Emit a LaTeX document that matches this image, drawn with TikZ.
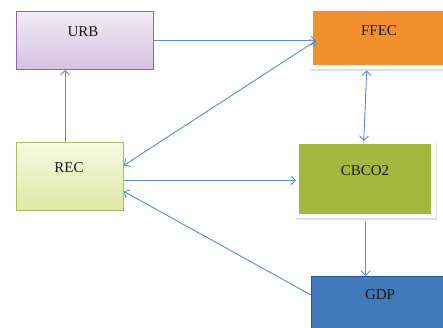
\documentclass[tikz,border=0pt]{standalone}
\usepackage{fontspec}
\setmainfont{Liberation Serif}
\usetikzlibrary{arrows.meta,calc,shadows}
\definecolor{linkblue}{HTML}{5B8DD0}
\definecolor{urbtop}{HTML}{F2ECF6}
\definecolor{urbbot}{HTML}{D6C2E0}
\definecolor{urbedge}{HTML}{8A68AA}
\definecolor{rectop}{HTML}{F6F9E2}
\definecolor{recbot}{HTML}{DFE9A6}
\definecolor{recedge}{HTML}{A6BE5C}
\definecolor{ffecfill}{HTML}{F0902E}
\definecolor{cbfill}{HTML}{A3B83C}
\definecolor{gdpfill}{HTML}{4279BA}
\definecolor{gdpedge}{HTML}{28558A}
\tikzset{
  x=1pt, y=-1pt,
  box/.style={rectangle, inner sep=0pt, anchor=north west},
  framed/.style={box, fill=white, drop shadow={shadow xshift=0.5pt, shadow yshift=-1.5pt, opacity=0.25}},
  caption/.style={font=\fontsize{15}{16}\selectfont, text=black!90, inner sep=0pt},
  link/.style={draw=linkblue, line width=0.9pt},
  tip/.style={-{Straight Barb[length=4.5pt,width=9pt]}},
  tips/.style={{Straight Barb[length=4.5pt,width=9pt]}-{Straight Barb[length=4.5pt,width=9pt]}},
}
\begin{document}
\begin{tikzpicture}
\useasboundingbox (0,0) rectangle (443,327);
\clip (0,0) rectangle (443,327);
\fill[white] (0,0) rectangle (443,327);

% URB: lilac gradient box
\node[box, minimum width=137pt, minimum height=58pt, top color=urbtop, bottom color=urbbot, draw=urbedge, line width=0.8pt, drop shadow={shadow xshift=0.5pt, shadow yshift=-1pt, opacity=0.2}] (urb) at (16,11) {};
\node[caption] at (83,32) {URB};

% FFEC: orange panel inside a white frame
\node[framed, minimum width=145pt, minimum height=60pt] (ffecframe) at (309,9) {};
\node[box, fill=ffecfill, minimum width=140pt, minimum height=54pt] (ffec) at (313,11) {};
\node[caption] at (379,31) {FFEC};

% REC: pale green gradient box
\node[box, minimum width=107pt, minimum height=68pt, top color=rectop, bottom color=recbot, draw=recedge, line width=0.8pt, drop shadow={shadow xshift=0.5pt, shadow yshift=-1pt, opacity=0.2}] (rec) at (16,142) {};
\node[caption] at (69,168) {REC};

% CBCO2: olive panel inside a white frame
\node[framed, minimum width=141pt, minimum height=77pt] (cbframe) at (295,141) {};
\node[box, fill=cbfill, minimum width=132pt, minimum height=70pt] (cbco) at (299,144) {};
\node[caption] at (365,171) {CBCO2};

% GDP: blue box running off the lower right corner
\node[box, fill=gdpfill, draw=gdpedge, line width=1.2pt, minimum width=140pt, minimum height=60pt] (gdp) at (311,276) {};
\node[caption] at (380,295) {GDP};

% Connectors
\coordinate (ffecin) at ($(ffecframe.west)+(7,1.5)$);
\coordinate (recup) at (65,142);
\coordinate (recout) at ($(rec.east)+(0,4)$);
\coordinate (cbout) at ($(cbframe.south)+(0,3)$);
\draw[link, tip] (urb.east |- ffecin) -- (ffecin);
\draw[link, tip] (recup) -- (recup |- urb.south);
\draw[link, tips] (ffecin) -- ($(rec.east)+(0,-11)$);
\draw[link, tips] ($(ffecframe.south)+(-15,1)$) -- ($(cbframe.north)+(-2,0)$);
\draw[link, tip] (recout) -- ($(cbframe.west |- recout)+(1,0)$);
\draw[link, tip] (cbout) -- (cbout |- gdp.north);
\draw[link, tip] ($(gdp.north west)+(0,19)$) -- ($(rec.east)+(0,15)$);
\end{tikzpicture}
\end{document}
